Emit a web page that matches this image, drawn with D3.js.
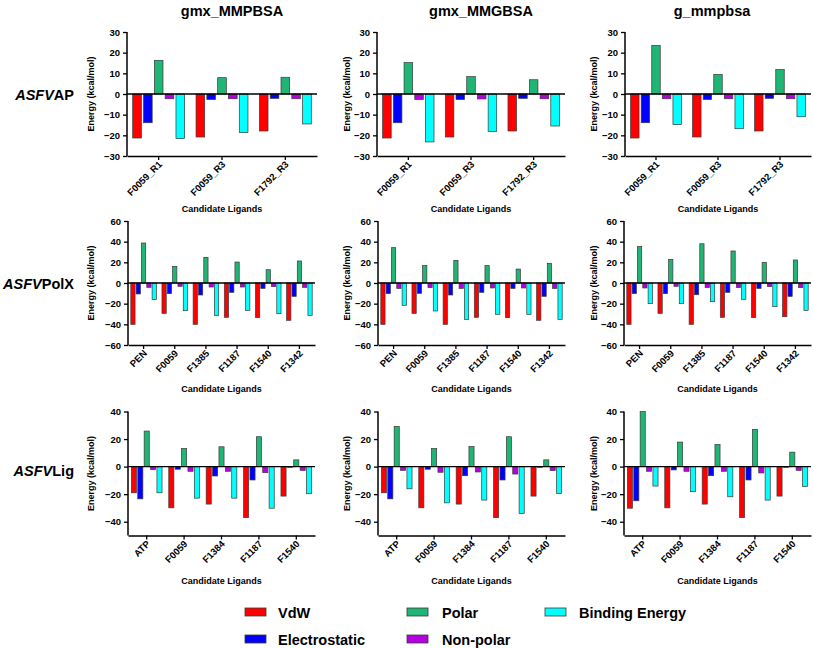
<!DOCTYPE html>
<html>
<head>
<meta charset="utf-8">
<script src="https://cdn.jsdelivr.net/npm/d3@7"></script>
<style>
  html, body { margin: 0; padding: 0; background: #fff; }
  svg { display: block; font-family: "Liberation Sans", Arial, sans-serif; }
</style>
</head>
<body>
<svg id="chart" width="813" height="648"></svg>
<script>
// ---------- DATA ----------
const methods = ["gmx_MMPBSA", "gmx_MMGBSA", "g_mmpbsa"];
const seriesNames = ["VdW", "Electrostatic", "Polar", "Non-polar", "Binding Energy"];
const seriesColors = ["#ff0000", "#0000ff", "#1fb574", "#b400e0", "#00ffff"];

const apLigands = ["F0059_R1", "F0059_R3", "F1792_R3"];
const polxLigands = ["PEN", "F0059", "F1385", "F1187", "F1540", "F1342"];
const ligLigands = ["ATP", "F0059", "F1384", "F1187", "F1540"];

const apTicks = [-30, -20, -10, 0, 10, 20, 30];
const polxTicks = [-60, -40, -20, 0, 20, 40, 60];
const ligTicks = [-40, -20, 0, 20, 40];

// values per ligand: [VdW, Electrostatic, Polar, Non-polar, Binding Energy]
const ap_gmxMMPBSA = [[-21.3, -13.9, 16.3, -2.3, -21.6], [-20.8, -2.7, 7.9, -2.3, -18.7], [-17.9, -2.1, 8.1, -2.3, -14.5]];
const ap_gmxMMGBSA = [[-21.3, -13.9, 15.2, -2.7, -23.2], [-20.8, -2.7, 8.4, -2.4, -18.2], [-17.9, -2.1, 6.9, -2.3, -15.5]];
const ap_gmmpbsa   = [[-21.3, -13.9, 23.5, -2.3, -14.8], [-20.8, -2.7, 9.5, -2.3, -16.8], [-17.9, -2.1, 11.8, -2.3, -11.0]];

const polx_gmxMMPBSA = [[-40.0, -10.6, 38.7, -4.2, -16.1], [-29.4, -10.3, 16.1, -3.2, -26.8], [-40.0, -11.6, 24.8, -3.9, -31.3],
                        [-33.2, -9.0, 20.3, -3.9, -26.5], [-33.5, -5.2, 12.9, -3.5, -29.7], [-36.1, -12.9, 21.3, -4.2, -31.3]];
const polx_gmxMMGBSA = [[-40.0, -10.3, 34.2, -5.2, -21.6], [-29.4, -10.0, 16.8, -4.5, -27.1], [-40.0, -11.6, 21.9, -5.2, -35.2],
                        [-33.2, -9.0, 16.8, -4.8, -30.3], [-33.5, -5.2, 13.5, -4.8, -30.3], [-36.1, -12.9, 19.0, -5.2, -35.2]];
const polx_gmmpbsa   = [[-40.0, -10.3, 35.2, -4.8, -20.0], [-29.4, -10.3, 22.9, -3.2, -20.0], [-40.0, -11.3, 38.0, -4.5, -18.1],
                        [-33.2, -9.0, 31.0, -4.5, -15.8], [-33.5, -5.2, 20.0, -3.5, -22.9], [-32.6, -12.9, 22.3, -4.5, -26.5]];

const lig_gmxMMPBSA = [[-19.0, -23.4, 25.8, -2.2, -19.0], [-29.9, -1.9, 13.1, -3.4, -22.9], [-27.2, -6.8, 14.4, -3.4, -22.9],
                       [-37.0, -9.7, 21.7, -4.4, -30.2], [-21.4, -0.5, 4.9, -2.7, -19.7]];
const lig_gmxMMGBSA = [[-19.0, -23.4, 29.2, -2.7, -16.1], [-29.9, -1.9, 13.1, -4.1, -26.3], [-27.2, -6.6, 14.6, -3.9, -24.3],
                       [-37.0, -9.7, 21.7, -5.4, -34.1], [-21.4, -0.5, 4.9, -2.9, -19.5]];
const lig_gmmpbsa   = [[-30.2, -24.8, 39.9, -3.4, -14.1], [-29.9, -2.4, 17.8, -3.4, -18.2], [-27.2, -6.6, 16.1, -3.4, -21.9],
                       [-37.0, -9.7, 27.0, -4.6, -24.3], [-21.4, -0.5, 10.5, -2.7, -14.4]];

// ---------- LAYOUT ----------
const svg = d3.select("#chart");
const FONT = '"Liberation Sans", Arial, sans-serif';

const colX = [[127, 377, 625], [128, 378, 624], [128, 378, 624]];
const colW = [[190, 188, 186], [187, 187, 187], [187, 187, 187]];
const rowY = [[32, 156], [221, 345], [411.5, 535.5]];
const yLabelX = [92, 348, 595];
const titleX = [232, 481, 712];

const rows = [
  { name: "AP", ligands: apLigands, ticks: apTicks, domain: [-30, 30], data: [ap_gmxMMPBSA, ap_gmxMMGBSA, ap_gmmpbsa], xlabOff: 53, labBase: 100 },
  { name: "PolX", ligands: polxLigands, ticks: polxTicks, domain: [-60, 60], data: [polx_gmxMMPBSA, polx_gmxMMGBSA, polx_gmmpbsa], xlabOff: 44, labBase: 289 },
  { name: "Lig", ligands: ligLigands, ticks: ligTicks, domain: [-50, 40], data: [lig_gmxMMPBSA, lig_gmxMMGBSA, lig_gmmpbsa], xlabOff: 45, labBase: 476 }
];

// Column titles
methods.forEach((m, c) => {
  svg.append("text").attr("x", titleX[c]).attr("y", 16)
    .attr("text-anchor", "middle").attr("font-weight", "bold")
    .attr("font-size", "14.5px").attr("fill", "#000").text(m);
});

rows.forEach((row, r) => {
  // Row label
  const rl = svg.append("text").attr("x", 74).attr("y", row.labBase)
    .attr("text-anchor", "end").attr("font-weight", "bold").attr("font-size", "14.5px");
  rl.append("tspan").attr("font-style", "italic").text("ASFV");
  rl.append("tspan").text(row.name);

  for (let c = 0; c < 3; c++) {
    const x0 = colX[r][c], w = colW[r][c];
    const [yTop, yBot] = rowY[r];
    const g = svg.append("g");

    const x = d3.scaleBand().domain(row.ligands).range([x0, x0 + w]).paddingInner(0).paddingOuter(0);
    const inner = d3.scaleBand().domain(seriesNames).range([0, x.bandwidth() * 0.82]).paddingInner(0.2).paddingOuter(0);
    const off = (x.bandwidth() - x.bandwidth() * 0.82) / 2;
    const y = d3.scaleLinear().domain(row.domain).range([yBot, yTop]);

    // bars
    row.data[c].forEach((vals, i) => {
      const lig = row.ligands[i];
      vals.forEach((v, s) => {
        g.append("rect")
          .attr("x", x(lig) + off + inner(seriesNames[s]))
          .attr("y", Math.min(y(v), y(0)))
          .attr("width", inner.bandwidth())
          .attr("height", Math.abs(y(v) - y(0)))
          .attr("fill", seriesColors[s])
          .attr("stroke", "#3a3a3a").attr("stroke-width", 0.7);
      });
    });

    // zero line
    g.append("line").attr("x1", x0).attr("x2", x0 + w).attr("y1", y(0)).attr("y2", y(0))
      .attr("stroke", "#000").attr("stroke-width", 1.3);

    // y axis
    const ya = g.append("g").attr("transform", `translate(${x0},0)`)
      .call(d3.axisLeft(y).tickValues(row.ticks).tickSize(4).tickPadding(3).tickFormat(d3.format("d")));
    ya.select(".domain").attr("stroke-width", 1.5).attr("d", `M0,${yTop}V${yBot}`);
    ya.selectAll(".tick line").attr("stroke-width", 1.3);
    ya.selectAll("text").attr("font-family", FONT).attr("font-weight", "bold").attr("font-size", "9.5px").attr("fill", "#000");

    // x axis at bottom
    const xa = g.append("g").attr("transform", `translate(0,${yBot})`)
      .call(d3.axisBottom(x).tickSize(4).tickSizeOuter(0));
    xa.select(".domain").attr("stroke-width", 1.5);
    xa.selectAll(".tick line").attr("stroke-width", 1.3);
    xa.selectAll("text").attr("font-family", FONT).attr("font-weight", "bold").attr("font-size", "9.5px").attr("fill", "#000")
      .attr("text-anchor", "end").attr("dy", null).attr("y", null)
      .attr("transform", "translate(4,9) rotate(-45)");

    // y label
    svg.append("text").attr("transform", `translate(${yLabelX[c]},${(yTop + yBot) / 2}) rotate(-90)`)
      .attr("text-anchor", "middle").attr("dominant-baseline", "middle")
      .attr("font-weight", "bold").attr("font-size", "9px").text("Energy (kcal/mol)");

    // x label
    svg.append("text").attr("x", x0 + w / 2).attr("y", yBot + row.xlabOff + 3)
      .attr("text-anchor", "middle").attr("font-weight", "bold").attr("font-size", "9px").text("Candidate Ligands");
  }
});

// ---------- LEGEND ----------
const legendPos = [[245, 608, 278], [245, 635, 278], [407, 608, 442], [407, 635, 442], [545, 608, 579]];
seriesNames.forEach((s, i) => {
  const [sx, sy, tx] = legendPos[i];
  svg.append("rect").attr("x", sx).attr("y", sy).attr("width", 21).attr("height", 8)
    .attr("fill", seriesColors[i]).attr("stroke", "#3a3a3a").attr("stroke-width", 0.8);
  svg.append("text").attr("x", tx).attr("y", sy + 9.5)
    .attr("font-weight", "bold").attr("font-size", "14.5px").text(s);
});
</script>
</body>
</html>
